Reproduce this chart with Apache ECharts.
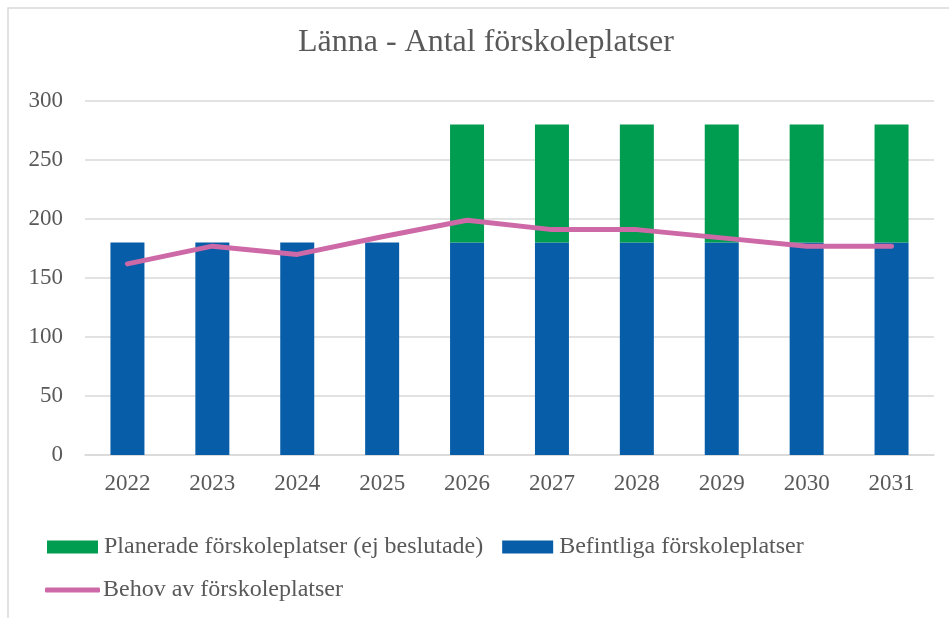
<!DOCTYPE html>
<html>
<head>
<meta charset="utf-8">
<script src="https://cdn.jsdelivr.net/npm/echarts@6/dist/echarts.min.js"></script>
<style>
html,body{margin:0;padding:0;background:#fff;}
#chart{width:949px;height:618px;}
</style>
</head>
<body>
<div id="chart"></div>
<script>
var categories = ['2022','2023','2024','2025','2026','2027','2028','2029','2030','2031'];
var befintliga = [180,180,180,180,180,180,180,180,180,180];
var planerade = [null,null,null,null,100,100,100,100,100,100];
var behov = [162,177,170,185,199,191,191,184,177,177];
var yTicks = [0,50,100,150,200,250,300];

var FONT = "'Liberation Serif','Times New Roman',serif";
var TXT = '#595959';

var chart = echarts.init(document.getElementById('chart'), null, {renderer:'canvas'});
chart.setOption({
  animation:false,
  backgroundColor:'#fff',
  graphic:[{
    type:'rect', silent:true,
    shape:{x:8,y:8,width:1000,height:700},
    style:{fill:'none', stroke:'#D9D9D9', lineWidth:1.5}
  }],
  title:{
    text:'Länna - Antal förskoleplatser',
    left:293, top:22, padding:5,
    textStyle:{fontFamily:FONT, fontSize:32, fontWeight:'normal', color:TXT}
  },
  legend:[{
    data:['Planerade förskoleplatser (ej beslutade)','Befintliga förskoleplatser'],
    left:42, top:530, itemWidth:51, itemHeight:13, itemGap:19,
    icon:'rect',
    textStyle:{fontFamily:FONT, fontSize:24, color:TXT, padding:[0,0,0,1]}
  },{
    data:['Behov av förskoleplatser'],
    left:40, top:573, itemWidth:55, itemHeight:5,
    icon:'roundRect',
    itemStyle:{color:'#CE69A7'},
    textStyle:{fontFamily:FONT, fontSize:24, color:TXT, padding:[0,0,0,-2]}
  }],
  grid:{left:85, right:15, top:101, bottom:163, containLabel:false},
  xAxis:{
    type:'category', data:categories,
    axisLine:{lineStyle:{color:'#D9D9D9', width:1.5}},
    axisTick:{show:false},
    axisLabel:{fontFamily:FONT, fontSize:23, color:TXT, margin:17}
  },
  yAxis:{
    type:'value', min:yTicks[0], max:yTicks[yTicks.length-1], interval:50,
    axisLine:{show:false}, axisTick:{show:false},
    splitLine:{lineStyle:{color:'#D9D9D9', width:1.5}},
    axisLabel:{fontFamily:FONT, fontSize:23, color:TXT, margin:22, padding:[5,0,0,0]}
  },
  series:[{
    name:'Befintliga förskoleplatser', type:'bar', stack:'a', data:befintliga,
    barWidth:34, itemStyle:{color:'#075DA8'}
  },{
    name:'Planerade förskoleplatser (ej beslutade)', type:'bar', stack:'a', data:planerade,
    barWidth:34, itemStyle:{color:'#009C4F'}
  },{
    name:'Behov av förskoleplatser', type:'line', data:behov, z:5,
    symbol:'none', itemStyle:{color:'#CE69A7'},
    lineStyle:{color:'#CE69A7', width:5, cap:'round', join:'round'}
  }]
});
</script>
</body>
</html>
